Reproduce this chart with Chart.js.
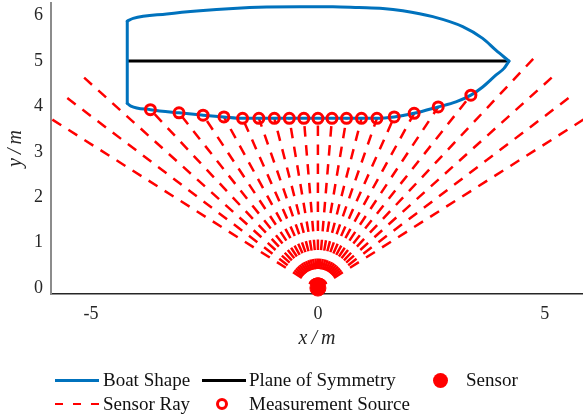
<!DOCTYPE html>
<html>
<head>
<meta charset="utf-8">
<script src="https://cdn.jsdelivr.net/npm/chart.js@4.4.0/dist/chart.umd.min.js"></script>
<style>
  html, body { margin: 0; padding: 0; background: #fff; }
  #wrap { position: relative; width: 583px; height: 417px; overflow: hidden; }
  #plot { position: absolute; left: 0; top: 0; }
  .lg-text {
    position: absolute; font-family: 'Liberation Serif', serif; font-size: 19px;
    color: #111; line-height: 22px; white-space: nowrap; transform: translateY(-50%);
  }
  .lg-sw { position: absolute; box-sizing: border-box; }
</style>
</head>
<body>
<div id="wrap">
  <canvas id="plot" width="583" height="417"></canvas>
  <div id="legend"></div>
</div>
<script>
// Hull outline (metres): deck side and keel side run stern -> bow, plus the flat stern
const boatTopX = [-4.20, -4.07, -3.33, -2.60, -1.87, -1.13, -0.40, 0.33, 0.90, 1.43, 1.87, 2.53, 3.19, 3.63, 3.92, 4.21];
const boatTopY = [5.88, 5.94, 6.04, 6.11, 6.16, 6.19, 6.20, 6.20, 6.18, 6.16, 6.11, 5.98, 5.76, 5.50, 5.24, 5.00];
const boatBottomX = [-4.20, -4.12, -3.69, -3.06, -2.53, -2.07, -1.66, -0.65, 0.65, 1.30, 1.68, 2.12, 2.65, 3.04, 3.37, 3.63, 3.92, 4.10, 4.21];
const boatBottomY = [4.07, 4.01, 3.93, 3.86, 3.81, 3.77, 3.74, 3.74, 3.74, 3.74, 3.77, 3.85, 3.99, 4.10, 4.25, 4.43, 4.69, 4.84, 5.00];
const sternX = [-4.20, -4.20];
const sternY = [4.07, 5.88];

// Plane of symmetry
const symX = [-4.20, 4.21];
const symY = [5.00, 5.00];

// Sensor position
const sensorX = [0];
const sensorY = [0];

// Ray end points, left to right (either the hull hit or the end of the sensor range)
const rayEndX = [-5.91, -5.58, -5.20, -3.69, -3.06, -2.53, -2.07, -1.66, -1.30, -0.96, -0.63, -0.31, 0.00,
                 0.31, 0.63, 0.96, 1.30, 1.68, 2.12, 2.65, 3.37, 4.79, 5.20, 5.58, 5.91];
const rayEndY = [3.75, 4.23, 4.68, 3.93, 3.86, 3.81, 3.77, 3.74, 3.74, 3.74, 3.74, 3.74, 3.74,
                 3.74, 3.74, 3.74, 3.74, 3.77, 3.85, 3.99, 4.25, 5.10, 4.68, 4.23, 3.75];

// Measured hull points
const measX = [-3.69, -3.06, -2.53, -2.07, -1.66, -1.30, -0.96, -0.63, -0.31, 0.00, 0.31, 0.63, 0.96, 1.30, 1.68, 2.12, 2.65, 3.37];
const measY = [3.93, 3.86, 3.81, 3.77, 3.74, 3.74, 3.74, 3.74, 3.74, 3.74, 3.74, 3.74, 3.74, 3.74, 3.77, 3.85, 3.99, 4.25];

// Axis ticks
const xTicks = [-5, 0, 5];
const yTicks = [0, 1, 2, 3, 4, 5, 6];

const BLUE = '#0072BD';
const RED = '#FF0000';
const INK = '#262626';
const SERIF = "'Liberation Serif', serif";

const pts = (xs, ys) => xs.map((x, i) => ({ x: x, y: ys[i] }));

const rayDatasets = rayEndX.map((ex, i) => ({
  label: 'Sensor Ray',
  data: [{ x: sensorX[0], y: sensorY[0] }, { x: ex, y: rayEndY[i] }],
  showLine: true,
  borderColor: RED,
  borderWidth: 2.5,
  borderDash: [10.5, 8.5],
  borderCapStyle: 'butt',
  pointRadius: 0,
  order: 4
}));

const hullLine = (xs, ys, smooth) => ({
  label: 'Boat Shape',
  data: pts(xs, ys),
  showLine: true,
  borderColor: BLUE,
  borderWidth: 3,
  borderJoinStyle: 'round',
  borderCapStyle: 'round',
  tension: smooth ? 0.4 : 0,
  cubicInterpolationMode: smooth ? 'monotone' : 'default',
  pointRadius: 0,
  order: 2
});

const datasets = [
  {
    label: 'Measurement Source',
    data: pts(measX, measY),
    showLine: false,
    pointStyle: 'circle',
    pointRadius: 5,
    pointBorderWidth: 3,
    pointBorderColor: RED,
    pointBackgroundColor: 'rgba(0,0,0,0)',
    order: 0
  },
  {
    label: 'Sensor',
    data: pts(sensorX, sensorY),
    showLine: false,
    pointRadius: 8,
    pointBorderWidth: 1,
    pointBorderColor: RED,
    pointBackgroundColor: RED,
    clip: 12,
    order: 1
  },
  hullLine(boatTopX, boatTopY, true),
  hullLine(boatBottomX, boatBottomY, true),
  hullLine(sternX, sternY, false),
  {
    label: 'Plane of Symmetry',
    data: pts(symX, symY),
    showLine: true,
    borderColor: '#000',
    borderWidth: 3,
    pointRadius: 0,
    order: 3
  },
  ...rayDatasets
];

new Chart(document.getElementById('plot'), {
  type: 'scatter',
  data: { datasets: datasets },
  options: {
    responsive: false,
    devicePixelRatio: 1,
    animation: false,
    events: [],
    layout: { autoPadding: false, padding: { top: 3, left: 0, right: 0, bottom: 0 } },
    plugins: { legend: { display: false }, tooltip: { enabled: false } },
    scales: {
      x: {
        type: 'linear', min: -5.88, max: 5.84,
        grid: { display: false, drawTicks: false, tickLength: 0 },
        border: { display: true, color: INK, width: 1.5 },
        ticks: { font: { family: SERIF, size: 18 }, color: INK, padding: 9 },
        afterBuildTicks: s => { s.ticks = xTicks.map(v => ({ value: v })); },
        afterFit: s => { s.height = 123; s.paddingLeft = 0; s.paddingRight = 0; },
        title: {
          display: true, text: 'x\u2009/\u2009m', color: INK,
          font: { family: SERIF, size: 20, style: 'italic' },
          padding: { top: 0, bottom: 66 }
        }
      },
      y: {
        type: 'linear', min: -0.13, max: 6.28,
        grid: { display: false, drawTicks: false, tickLength: 0 },
        border: { display: true, color: '#8c8c8c', width: 2 },
        ticks: { font: { family: SERIF, size: 18 }, color: INK, padding: 8 },
        afterBuildTicks: s => { s.ticks = yTicks.map(v => ({ value: v })); },
        afterFit: s => { s.width = 51; s.paddingTop = 0; s.paddingBottom = 0; },
        title: {
          display: true, text: 'y\u2009/\u2009m', color: INK,
          font: { family: SERIF, size: 20, style: 'italic' },
          padding: { top: 4, bottom: 0 }
        }
      }
    }
  }
});

// Legend below the axes: two rows, three columns
const legendItems = [
  { label: 'Boat Shape',         kind: 'line', color: BLUE,   sx: 55,  row: 0, tx: 103 },
  { label: 'Plane of Symmetry',  kind: 'line', color: '#000', sx: 202, row: 0, tx: 249 },
  { label: 'Sensor',             kind: 'dot',  color: RED,    sx: 440, row: 0, tx: 466 },
  { label: 'Sensor Ray',         kind: 'dash', color: RED,    sx: 55,  row: 1, tx: 103 },
  { label: 'Measurement Source', kind: 'ring', color: RED,    sx: 222, row: 1, tx: 249 }
];
const rowY = [380, 404];
const legend = document.getElementById('legend');
legendItems.forEach(it => {
  const cy = rowY[it.row];
  const sw = document.createElement('div');
  sw.className = 'lg-sw';
  if (it.kind === 'line') {
    Object.assign(sw.style, { left: it.sx + 'px', top: (cy - 1.5) + 'px', width: '44px', height: '3px', background: it.color });
  } else if (it.kind === 'dash') {
    Object.assign(sw.style, { left: it.sx + 'px', top: (cy - 1.25) + 'px', width: '44px', height: '2.5px',
      background: 'repeating-linear-gradient(90deg, ' + it.color + ' 0 8px, transparent 8px 18px)' });
  } else if (it.kind === 'dot') {
    Object.assign(sw.style, { left: (it.sx - 7.5) + 'px', top: (cy - 7.5) + 'px', width: '15px', height: '15px',
      borderRadius: '50%', background: it.color });
  } else {
    Object.assign(sw.style, { left: (it.sx - 6) + 'px', top: (cy - 6) + 'px', width: '12px', height: '12px',
      borderRadius: '50%', border: '3px solid ' + it.color });
  }
  legend.appendChild(sw);
  const t = document.createElement('div');
  t.className = 'lg-text';
  t.textContent = it.label;
  Object.assign(t.style, { left: it.tx + 'px', top: cy + 'px' });
  legend.appendChild(t);
});
</script>
</body>
</html>
